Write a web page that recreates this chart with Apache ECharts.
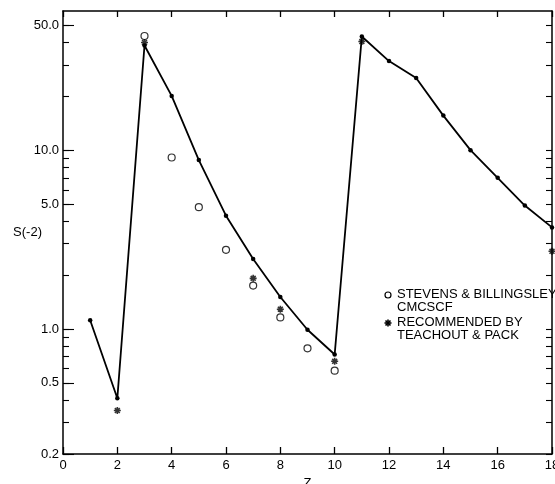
<!DOCTYPE html>
<html>
<head>
<meta charset="utf-8">
<script src="https://cdn.jsdelivr.net/npm/echarts@6/dist/echarts.min.js"></script>
<style>html,body{margin:0;padding:0;background:#fff;}#c{width:555px;height:484px;}</style>
</head>
<body>
<div id="c"></div>
<script>
// Data
const zValues = [1,2,3,4,5,6,7,8,9,10,11,12,13,14,15,16,17,18];
const curveValues = [1.12,0.41,38.5,20.1,8.8,4.3,2.46,1.51,0.99,0.72,43.2,31.5,25.3,15.6,10.0,7.0,4.9,3.7];
const stevensZ = [3,4,5,6,7,8,9,10];
const stevensValues = [43.5,9.1,4.8,2.77,1.75,1.16,0.78,0.585];
const recommendedZ = [2,3,7,8,10,11,18];
const recommendedValues = [0.35,40,1.92,1.29,0.66,40.5,2.72];
const xTicks = [0,2,4,6,8,10,12,14,16,18];
const yLabelTicks = [0.2,0.5,1,5,10,50];
const yMinorTicks = [0.2,0.3,0.4,0.5,0.6,0.7,0.8,0.9,1,2,3,4,5,6,7,8,9,10,20,30,40,50];

const FONT = 'Liberation Sans';
const pairs = (xs, ys) => xs.map((x, i) => [x, ys[i]]);
const asterisk = 'path://M5,0L5,10M0,5L10,5M1.5,1.5L8.5,8.5M8.5,1.5L1.5,8.5';

const chart = echarts.init(document.getElementById('c'), null, {renderer: 'canvas'});

const yBase = {type: 'log', logBase: 10, min: 0.2, max: 60, splitLine: {show: false}};
const axisLineStyle = {color: '#000', width: 1.5};

// legend asterisk made of short strokes (legend key only)
function legendAsterisk(cx, cy, r) {
  const d = r * 0.72;
  const segs = [[0, -r, 0, r], [-r, 0, r, 0], [-d, -d, d, d], [d, -d, -d, d]];
  return segs.map(s => ({type: 'line', shape: {x1: cx + s[0], y1: cy + s[1], x2: cx + s[2], y2: cy + s[3]},
    style: {stroke: '#000', lineWidth: 1.6}}));
}

chart.setOption({
  animation: false,
  backgroundColor: '#fff',
  grid: {left: 63, right: 3, top: 11, bottom: 30, containLabel: false, outerBoundsMode: 'none'},
  xAxis: [
    {
      type: 'value', min: 0, max: 18, interval: 2, position: 'bottom',
      axisLine: {show: true, lineStyle: axisLineStyle},
      axisTick: {show: true, inside: true, length: 7, lineStyle: {color: '#000', width: 1.3}},
      axisLabel: {color: '#000', fontFamily: FONT, fontSize: 13, margin: 5},
      splitLine: {show: false},
      name: 'Z', nameLocation: 'middle', nameGap: 20,
      nameTextStyle: {color: '#000', fontFamily: FONT, fontSize: 13}
    },
    {
      type: 'value', min: 0, max: 18, interval: 2, position: 'top',
      axisLine: {show: true, lineStyle: axisLineStyle},
      axisTick: {show: true, inside: true, length: 6, lineStyle: {color: '#000', width: 1.3}},
      axisLabel: {show: false},
      splitLine: {show: false}
    }
  ],
  yAxis: [
    Object.assign({}, yBase, {
      position: 'left',
      axisLine: {show: true, lineStyle: axisLineStyle},
      axisTick: {show: true, inside: true, length: 6, customValues: yMinorTicks, lineStyle: {color: '#000', width: 1.1}},
      axisLabel: {color: '#000', fontFamily: FONT, fontSize: 13, margin: 4, customValues: yLabelTicks,
        formatter: v => (+v).toFixed(1)},
      name: 'S(-2)', nameLocation: 'middle', nameRotate: 0, nameGap: 21, nameMoveOverlap: false,
      nameTextStyle: {color: '#000', fontFamily: FONT, fontSize: 13, padding: [10, 0, 0, 0]}
    }),
    Object.assign({}, yBase, {
      position: 'left',
      axisLine: {show: false},
      axisTick: {show: true, inside: true, length: 11, customValues: yLabelTicks, lineStyle: {color: '#000', width: 1.1}},
      axisLabel: {show: false}
    }),
    Object.assign({}, yBase, {
      position: 'right',
      axisLine: {show: true, lineStyle: axisLineStyle},
      axisTick: {show: true, inside: true, length: 6, customValues: yMinorTicks, lineStyle: {color: '#000', width: 1.1}},
      axisLabel: {show: false}
    })
  ],
  series: [
    {
      type: 'line', xAxisIndex: 0, yAxisIndex: 0,
      data: pairs(zValues, curveValues),
      symbol: 'circle', symbolSize: 4.5, showSymbol: true,
      lineStyle: {color: '#000', width: 1.8},
      itemStyle: {color: '#000'}
    },
    {
      name: 'STEVENS & BILLINGSLEY CMCSCF',
      type: 'scatter', xAxisIndex: 0, yAxisIndex: 0,
      data: pairs(stevensZ, stevensValues),
      symbol: 'circle', symbolSize: 7,
      itemStyle: {color: '#fff', borderColor: '#000', borderWidth: 1.2}
    },
    {
      name: 'RECOMMENDED BY TEACHOUT & PACK',
      type: 'scatter', xAxisIndex: 0, yAxisIndex: 0,
      data: pairs(recommendedZ, recommendedValues),
      symbol: asterisk, symbolSize: 7,
      itemStyle: {color: '#000', borderColor: '#000', borderWidth: 1.6}
    }
  ],
  graphic: [
    {type: 'circle', shape: {cx: 388, cy: 295, r: 3}, style: {fill: '#fff', stroke: '#000', lineWidth: 1.2}},
    {type: 'text', x: 397, y: 288, style: {text: 'STEVENS & BILLINGSLEY\nCMCSCF', fill: '#000', font: '13px "Liberation Sans"', lineHeight: 13}},
    {type: 'group', children: legendAsterisk(388, 323, 3.5)},
    {type: 'text', x: 397, y: 316, style: {text: 'RECOMMENDED BY\nTEACHOUT & PACK', fill: '#000', font: '13px "Liberation Sans"', lineHeight: 13}}
  ]
});
</script>
</body>
</html>
